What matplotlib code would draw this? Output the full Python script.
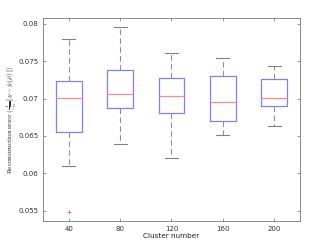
import matplotlib
matplotlib.use("Agg")
import matplotlib.pyplot as plt

clusters = ["40", "80", "120", "160", "200"]
whisker_low = [0.06094, 0.06389, 0.06201, 0.06513, 0.06634]
q1 = [0.06558, 0.06875, 0.06812, 0.06705, 0.06898]
median = [0.0701, 0.07062, 0.0704, 0.06951, 0.07013]
q3 = [0.07232, 0.0738, 0.07277, 0.07299, 0.07259]
whisker_high = [0.07803, 0.07955, 0.07607, 0.0754, 0.07442]
outliers = [[0.05482], [], [], [], []]

plt.rcParams['mathtext.fontset'] = 'cm'

fig = plt.figure(figsize=(3.32, 2.49), dpi=100)
ax = fig.add_axes([0.1295, 0.1124, 0.7741, 0.8153])

stats = []
for i in range(len(clusters)):
    stats.append(dict(med=median[i], q1=q1[i], q3=q3[i],
                      whislo=whisker_low[i], whishi=whisker_high[i],
                      fliers=outliers[i], label=clusters[i]))

ax.bxp(stats, positions=range(1, len(clusters) + 1), widths=0.5,
       showfliers=True,
       boxprops=dict(color='#8080ff', linewidth=0.9),
       medianprops=dict(color='#ff8c8c', linewidth=0.9),
       whiskerprops=dict(color='#909090', linewidth=0.8, linestyle=(0, (5, 3))),
       capprops=dict(color='#808080', linewidth=0.8),
       capwidths=0.25,
       flierprops=dict(marker='+', markeredgecolor='#ff6060', markersize=3, markeredgewidth=0.6))

ax.set_xlim(0.5, 5.5)
ax.set_ylim(0.0536, 0.0808)
ax.set_yticks([0.055, 0.06, 0.065, 0.07, 0.075, 0.08])
ax.set_yticklabels(['0.055', '0.06', '0.065', '0.07', '0.075', '0.08'])
ax.set_xticks(range(1, 6))
ax.set_xticklabels(clusters)

for s in ax.spines.values():
    s.set_color('#888888')
    s.set_linewidth(0.7)
ax.tick_params(direction='in', length=2, width=0.6, colors='#888888',
               labelcolor='#333333', labelsize=5, top=True, right=True)

ax.set_xlabel('Cluster number', fontsize=5.2, color='#222222', labelpad=1)
ax.set_ylabel(r'Reconstruction error $(\frac{1}{\sqrt{n}}\|y-\hat{y}(\mu)\|)$',
              fontsize=5.2, family='Liberation Serif', color='#333333')
ax.yaxis.set_label_coords(-0.095, 0.5)

fig.savefig('out.png', dpi=100)
